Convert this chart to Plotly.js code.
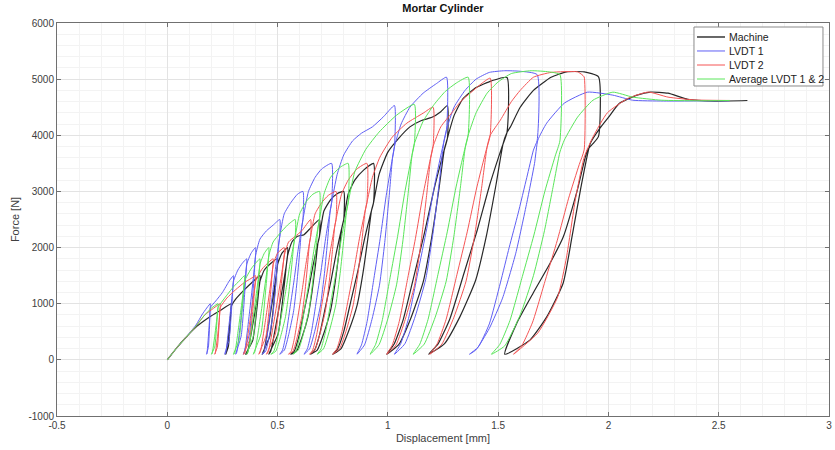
<!DOCTYPE html>
<html>
<head>
<meta charset="utf-8">
<script src="https://cdn.plot.ly/plotly-3.0.1.min.js"></script>
<style>html,body{margin:0;padding:0;background:#fff;}#chart{width:835px;height:450px;}</style>
</head>
<body>
<div id="chart"></div>
<script>
// ---- Data (displacement [mm], force [N]) ----
const machineX = [0,0.04,0.08,0.135,0.19,0.24,0.29,
0.29,0.278,0.267,0.265,0.277,0.286,0.29,
0.31,0.35,0.39,0.42,
0.42,0.3875,0.3615,0.355,0.3875,0.41,0.42,
0.44,0.47,0.50,
0.50,0.465,0.437,0.43,0.465,0.4895,0.50,
0.52,0.545,
0.545,0.5025,0.4685,0.46,0.5025,0.532,0.545,
0.565,0.59,0.62,0.65,0.69,
0.69,0.681,0.6614,0.6406,0.6185,0.5951,0.5756,0.56,
0.586,0.612,0.638,0.6562,0.6718,0.6835,0.69,
0.71,0.74,0.77,0.80,
0.80,0.7895,0.767,0.743,0.7175,0.6905,0.668,0.65,
0.68,0.71,0.74,0.761,0.779,0.7925,0.80,
0.82,0.85,0.89,0.935,
0.935,0.922,0.8943,0.8647,0.8333,0.80,0.7722,0.75,
0.787,0.824,0.861,0.8869,0.9091,0.9258,0.935,
0.96,1.0,1.05,1.10,1.15,1.20,1.24,1.27,
1.27,1.2508,1.2095,1.1655,1.1188,1.0693,1.028,0.995,
1.05,1.105,1.16,1.1985,1.2315,1.2563,1.27,
1.30,1.34,1.40,1.47,1.54,
1.54,1.5152,1.4619,1.4051,1.3448,1.2809,1.2276,1.185,
1.256,1.327,1.398,1.4477,1.4903,1.5223,1.54,
1.555,1.60,1.66,1.74,1.81,1.89,1.955,
1.955,1.93,1.905,1.859,1.795,1.736,1.659,1.585,1.53,
1.645,1.721,1.795,1.835,1.873,1.918,1.96,
2.0,2.05,2.13,2.19,2.27,2.36,2.48,2.63];
const machineY = [0,200,380,600,760,880,1000,
950,450,120,100,240,710,950,
1080,1250,1400,1500,
1400,630,112,100,350,1050,1400,
1600,1720,1800,
1700,765,136,100,425,1275,1700,
1900,2000,
1850,833,148,100,463,1388,1850,
2100,2200,2230,2350,2500,
2200,2046,1694,1254,836,396,154,100,
154,418,770,1210,1694,2090,2200,
2650,2850,2960,3000,
2500,2325,1925,1425,950,450,175,100,
175,475,875,1375,1925,2375,2500,
2950,3200,3380,3500,
2800,2604,2156,1596,1064,504,196,100,
196,532,980,1540,2156,2660,2800,
3300,3700,3950,4150,4260,4320,4420,4530,
3950,3674,3042,2252,1501,711,277,100,
277,751,1383,2173,3042,3753,3950,
4350,4650,4850,4970,5030,
4050,3767,3119,2309,1539,729,284,100,
284,770,1418,2228,3119,3848,4050,
4145,4500,4800,5034,5130,5130,5040,
3980,3850,3736,3024,2188,1726,1192,658,100,
356,770,1370,2194,3024,3860,4120,
4320,4570,4715,4770,4750,4640,4610,4620];

const lvdt1X = [0,0.04,0.08,0.13,0.16,0.195,
0.195,0.1865,0.1797,0.178,0.1865,0.1925,0.195,
0.22,0.25,0.28,0.30,
0.30,0.28,0.264,0.26,0.28,0.294,0.30,
0.32,0.34,0.36,
0.36,0.335,0.315,0.31,0.335,0.3525,0.36,
0.38,0.40,
0.40,0.3725,0.3505,0.345,0.3725,0.3918,0.40,
0.42,0.45,0.48,0.51,
0.51,0.5044,0.4924,0.4796,0.466,0.4516,0.4396,0.43,
0.446,0.462,0.478,0.4892,0.4988,0.506,0.51,
0.53,0.56,0.59,0.615,
0.615,0.6077,0.5919,0.5751,0.5573,0.5384,0.5226,0.51,
0.531,0.552,0.573,0.5877,0.6003,0.6098,0.615,
0.64,0.67,0.70,0.745,
0.745,0.7363,0.7175,0.6975,0.6763,0.6538,0.635,0.62,
0.645,0.67,0.695,0.7125,0.7275,0.7388,0.745,
0.77,0.80,0.84,0.88,0.93,0.98,1.03,
1.03,1.0181,0.9926,0.9654,0.9365,0.9059,0.8804,0.86,
0.894,0.928,0.962,0.9858,1.0062,1.0215,1.03,
1.06,1.10,1.16,1.22,1.266,
1.266,1.2495,1.2141,1.1763,1.1362,1.0937,1.0583,1.03,
1.0772,1.1244,1.1716,1.2046,1.233,1.2542,1.266,
1.30,1.35,1.40,1.46,1.53,1.60,1.677,
1.677,1.66,1.63,1.59,1.55,1.51,1.46,1.41,1.37,
1.40,1.46,1.52,1.58,1.63,1.665,1.68,1.72,1.80,1.905,2.02,2.11,2.25,2.55];
const lvdt1Y = [0,200,380,620,820,1000,
930,420,110,100,230,700,930,
1050,1200,1400,1500,
1400,630,112,100,350,1050,1400,
1600,1720,1800,
1700,765,136,100,425,1275,1700,
1900,2000,
1850,833,148,100,463,1388,1850,
2150,2300,2400,2500,
2200,2046,1694,1254,836,396,154,100,
154,418,770,1210,1694,2090,2200,
2600,2800,2950,3000,
2500,2325,1925,1425,950,450,175,100,
175,475,875,1375,1925,2375,2500,
3000,3250,3400,3500,
2800,2604,2156,1596,1064,504,196,100,
196,532,980,1540,2156,2660,2800,
3300,3650,3900,4036,4150,4330,4530,
3800,3534,2926,2166,1444,684,266,100,
266,722,1330,2090,2926,3610,3800,
4200,4500,4750,4920,5034,
4100,3813,3157,2337,1558,738,287,100,
287,779,1435,2255,3157,3895,4100,
4500,4800,5000,5120,5150,5140,5080,
3910,3736,3250,2600,2000,1370,640,230,100,
180,560,1100,1900,2800,3500,3914,4216,4572,4768,4715,4625,4610,4615];

const lvdt2X = [0,0.04,0.08,0.13,0.17,0.21,0.24,
0.24,0.228,0.217,0.215,0.227,0.236,0.24,
0.27,0.31,0.35,0.38,0.40,
0.40,0.3725,0.3505,0.345,0.3725,0.3918,0.40,
0.43,0.46,0.48,
0.48,0.4475,0.4215,0.415,0.4475,0.4703,0.48,
0.50,0.53,
0.53,0.49,0.458,0.45,0.49,0.518,0.53,
0.55,0.58,0.61,0.65,
0.65,0.643,0.628,0.612,0.595,0.577,0.562,0.55,
0.57,0.59,0.61,0.624,0.636,0.645,0.65,
0.67,0.70,0.73,0.765,
0.765,0.7566,0.7386,0.7194,0.699,0.6774,0.6594,0.645,
0.669,0.693,0.717,0.7338,0.7482,0.759,0.765,
0.79,0.82,0.86,0.905,
0.905,0.8942,0.8709,0.8461,0.8198,0.7919,0.7686,0.75,
0.781,0.812,0.843,0.8647,0.8833,0.8973,0.905,
0.93,0.964,1.02,1.086,1.16,1.205,
1.205,1.1903,1.1588,1.1252,1.0895,1.0517,1.0202,0.995,
1.037,1.079,1.121,1.1504,1.1756,1.1945,1.205,
1.24,1.29,1.33,1.373,1.418,1.464,
1.464,1.4448,1.4037,1.3599,1.3133,1.264,1.2229,1.19,
1.2448,1.2996,1.3544,1.3928,1.4256,1.4503,1.464,
1.51,1.56,1.60,1.66,1.74,1.86,1.88,1.89,
1.89,1.8676,1.8196,1.7684,1.714,1.6564,1.6084,1.57,
1.68,1.77,1.81,1.85,1.89,1.93,1.995,2.09,2.18,2.27,2.39,2.55];
const lvdt2Y = [0,200,380,600,800,920,1000,
930,420,110,100,230,700,930,
1100,1250,1380,1450,1500,
1400,630,112,100,350,1050,1400,
1620,1740,1800,
1700,765,136,100,425,1275,1700,
1900,2000,
1850,833,148,100,463,1388,1850,
2100,2200,2300,2500,
2200,2046,1694,1254,836,396,154,100,
154,418,770,1210,1694,2090,2200,
2600,2800,2930,3000,
2500,2325,1925,1425,950,450,175,100,
175,475,875,1375,1925,2375,2500,
2950,3200,3400,3500,
2800,2604,2156,1596,1064,504,196,100,
196,532,980,1540,2156,2660,2800,
3250,3611,3967,4216,4394,4500,
3800,3534,2926,2166,1444,684,266,100,
266,722,1330,2090,2926,3610,3800,
4150,4400,4600,4750,4900,5017,
4000,3720,3080,2280,1520,720,280,100,
280,760,1400,2200,3080,3800,4000,
4270,4600,4800,5034,5120,5130,5080,5040,
3740,3478,2880,2132,1421,673,262,100,
480,1120,1830,2850,3610,3970,4400,4660,4770,4680,4630,4620];

const avgX = [0,0.04,0.08,0.13,0.17,0.20,0.23,
0.23,0.215,0.203,0.20,0.215,0.2255,0.23,
0.26,0.30,0.33,0.35,
0.35,0.325,0.305,0.30,0.325,0.3425,0.35,
0.38,0.40,0.42,
0.42,0.39,0.366,0.36,0.39,0.411,0.42,
0.44,0.46,
0.46,0.425,0.397,0.39,0.425,0.4495,0.46,
0.48,0.51,0.545,0.58,
0.58,0.5723,0.5558,0.5382,0.5195,0.4997,0.4832,0.47,
0.492,0.514,0.536,0.5514,0.5646,0.5745,0.58,
0.60,0.63,0.66,0.69,
0.69,0.6816,0.6636,0.6444,0.624,0.6024,0.5844,0.57,
0.594,0.618,0.642,0.6588,0.6732,0.684,0.69,
0.71,0.74,0.78,0.82,
0.82,0.8102,0.7892,0.7668,0.743,0.7178,0.6968,0.68,
0.708,0.736,0.764,0.7836,0.8004,0.813,0.82,
0.85,0.90,0.96,1.04,1.12,
1.12,1.106,1.076,1.044,1.01,0.974,0.944,0.92,
0.96,1.0,1.04,1.068,1.092,1.11,1.12,
1.16,1.21,1.26,1.31,1.364,
1.364,1.3466,1.3092,1.2694,1.2271,1.1822,1.1449,1.115,
1.1648,1.2146,1.2644,1.2993,1.3291,1.3516,1.364,
1.40,1.45,1.50,1.56,1.65,1.73,1.78,
1.78,1.7583,1.7118,1.6622,1.6095,1.5537,1.5072,1.47,
1.53,1.60,1.66,1.71,1.75,1.78,1.80,1.86,1.93,2.02,2.11,2.24,2.40,2.55];
const avgY = [0,200,380,600,800,920,1000,
930,420,110,100,230,700,930,
1100,1300,1420,1500,
1400,630,112,100,350,1050,1400,
1620,1720,1800,
1700,765,136,100,425,1275,1700,
1900,2000,
1850,833,148,100,463,1388,1850,
2100,2250,2400,2500,
2200,2046,1694,1254,836,396,154,100,
154,418,770,1210,1694,2090,2200,
2600,2820,2950,3000,
2500,2325,1925,1425,950,450,175,100,
175,475,875,1375,1925,2375,2500,
2950,3250,3420,3500,
2800,2604,2156,1596,1064,504,196,100,
196,532,980,1540,2156,2660,2800,
3350,3750,4056,4360,4550,
3850,3581,2965,2195,1463,693,270,100,
270,732,1348,2118,2965,3658,3850,
4250,4550,4780,4930,5034,
4000,3720,3080,2280,1520,720,280,100,
280,760,1400,2200,3080,3800,4000,
4400,4750,4950,5100,5150,5130,5080,
3900,3627,3003,2223,1482,702,273,100,
250,800,1500,2300,3100,3700,3914,4323,4625,4768,4680,4625,4615,4620];

const seriesNames = ['Machine','LVDT 1','LVDT 2','Average LVDT 1 & 2'];
const seriesColors = ['rgb(40,40,40)','rgb(95,95,245)','rgb(245,85,85)','rgb(90,230,90)'];
const xTickVals = [-0.5,0,0.5,1,1.5,2,2.5,3];
const xTickText = ['-0.5','0','0.5','1','1.5','2','2.5','3'];
const yTickVals = [-1000,0,1000,2000,3000,4000,5000,6000];
const yTickText = ['-1000','0','1000','2000','3000','4000','5000','6000'];

const FONT = 'Liberation Sans, Arial, Helvetica, sans-serif';
const lineShape = {shape:'spline', smoothing:0.5};
const traces = [
  {x:machineX, y:machineY, name:seriesNames[0], mode:'lines', line:Object.assign({color:seriesColors[0], width:1.2}, lineShape)},
  {x:lvdt1X, y:lvdt1Y, name:seriesNames[1], mode:'lines', line:Object.assign({color:seriesColors[1], width:1}, lineShape)},
  {x:lvdt2X, y:lvdt2Y, name:seriesNames[2], mode:'lines', line:Object.assign({color:seriesColors[2], width:1}, lineShape)},
  {x:avgX, y:avgY, name:seriesNames[3], mode:'lines', line:Object.assign({color:seriesColors[3], width:1}, lineShape)}
];

// hand-made legend box in paper coordinates (MATLAB-style compact legend)
const legX0 = 0.8251, legX1 = 0.9922, legY0 = 0.8397, legY1 = 0.9898;
const legRowY = [0.9644, 0.9288, 0.8931, 0.8575];
const legLineX0 = 0.8290, legLineX1 = 0.8653, legTextX = 0.8679;
const shapes = [{type:'rect', xref:'paper', yref:'paper', x0:legX0, x1:legX1, y0:legY0, y1:legY1,
  fillcolor:'#fff', line:{color:'#8a8a8a', width:1}, layer:'above'}];
const annotations = [];
seriesNames.forEach((n, i) => {
  shapes.push({type:'line', xref:'paper', yref:'paper', x0:legLineX0, x1:legLineX1, y0:legRowY[i], y1:legRowY[i],
    line:{color:seriesColors[i], width: i === 0 ? 1.4 : 1}, layer:'above'});
  annotations.push({xref:'paper', yref:'paper', x:legTextX, y:legRowY[i], xanchor:'left', yanchor:'middle',
    text:n, showarrow:false, font:{family:FONT, size:10.5, color:'#222'}});
});

const axisCommon = {
  showgrid:true, gridcolor:'#e3e3e3', gridwidth:1,
  zeroline:false, showline:true, linecolor:'#707070', linewidth:1, mirror:'ticks',
  ticks:'inside', ticklen:4, tickcolor:'#707070',
  tickfont:{family:FONT, size:10, color:'#404040'}
};
const layout = {
  width:835, height:450,
  margin:{l:57, r:6, t:23, b:34},
  paper_bgcolor:'#fff', plot_bgcolor:'#fff',
  font:{family:FONT, size:10, color:'#404040'},
  showlegend:false,
  shapes:shapes, annotations:annotations,
  title:{text:'<b>Mortar Cylinder</b>', x:0.5, xref:'paper', xanchor:'center', y:0.982, yref:'container', yanchor:'middle', font:{family:FONT, size:11, color:'#111'}},
  xaxis:Object.assign({}, axisCommon, {
    range:[-0.5,3], tickmode:'array', tickvals:xTickVals, ticktext:xTickText,
    minor:{dtick:0.1, tick0:0, showgrid:true, gridcolor:'#f3f3f3', ticks:''},
    title:{text:'Displacement [mm]', standoff:4, font:{family:FONT, size:11, color:'#404040'}}
  }),
  yaxis:Object.assign({}, axisCommon, {
    range:[-1000,6000], tickmode:'array', tickvals:yTickVals, ticktext:yTickText,
    minor:{dtick:200, tick0:0, showgrid:true, gridcolor:'#f3f3f3', ticks:''},
    title:{text:'Force [N]', standoff:6, font:{family:FONT, size:11, color:'#404040'}}
  })
};
Plotly.newPlot('chart', traces, layout, {displayModeBar:false, staticPlot:true});
</script>
</body>
</html>
